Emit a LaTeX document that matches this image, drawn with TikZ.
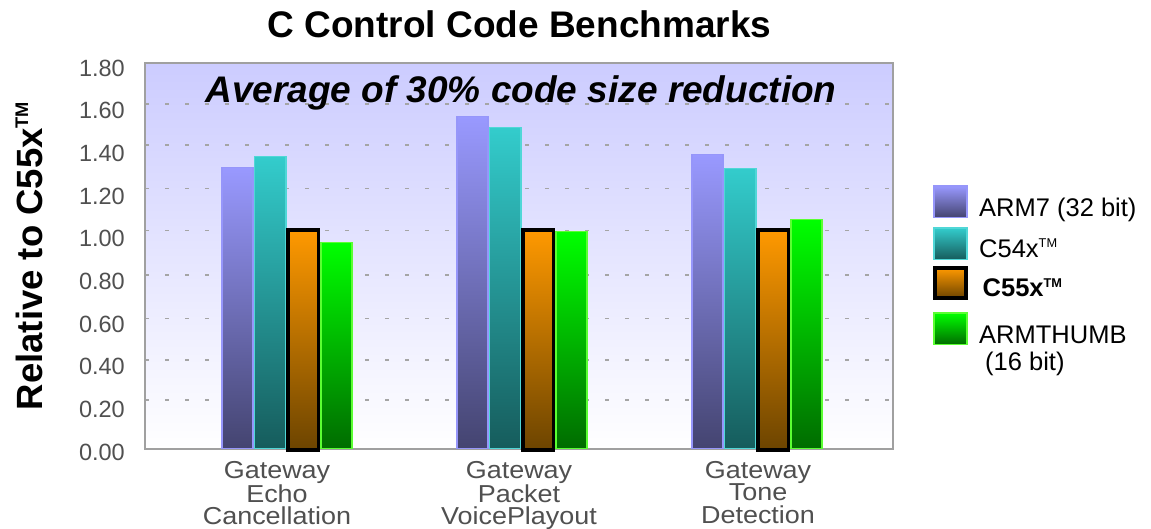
\documentclass[tikz,border=0pt]{standalone}
\usepackage{fontspec}
\setmainfont{Liberation Sans}
\definecolor{bgtop}{RGB}{204,204,255}
\definecolor{gridc}{RGB}{165,165,165}
\definecolor{axisc}{RGB}{160,160,160}
\definecolor{labc}{RGB}{80,80,80}
\definecolor{armtop}{RGB}{153,153,255}
\definecolor{armbot}{RGB}{68,68,112}
\definecolor{armln}{RGB}{150,150,250}
\definecolor{ctop}{RGB}{51,204,204}
\definecolor{cbot}{RGB}{22,92,92}
\definecolor{cln}{RGB}{80,215,215}
\definecolor{otop}{RGB}{255,153,0}
\definecolor{obot}{RGB}{108,68,0}
\definecolor{gtop}{RGB}{0,255,0}
\definecolor{gbot}{RGB}{0,108,0}
\definecolor{gln}{RGB}{90,255,50}
\newcommand\tmk{\raisebox{0.38em}{\scalebox{0.5}{TM}}}
\tikzset{
  armbar/.style={top color=armtop, bottom color=armbot, draw=armln, line width=1.5pt},
  c54bar/.style={top color=ctop, bottom color=cbot, draw=cln, line width=1.5pt},
  c55bar/.style={top color=otop, bottom color=obot, draw=black, line width=3.5pt},
  thumbbar/.style={top color=gtop, bottom color=gbot, draw=gln, line width=1.5pt},
  gridln/.style={draw=gridc, line width=1.3pt, dash pattern=on 4pt off 16pt},
  ylab/.style={anchor=east, inner sep=0pt, text=labc, font=\fontsize{23.5}{25}\selectfont},
  xlab/.style={anchor=north, inner sep=0pt, align=center, text=labc, xscale=1.1, font=\fontsize{24.5}{22.5}\selectfont},
  legtext/.style={anchor=base west, inner sep=0pt, font=\fontsize{25.5}{27}\selectfont},
}
\begin{document}
\begin{tikzpicture}[x=1pt,y=-1pt]
\useasboundingbox (0,0) rectangle (1151,529);
\fill[white] (0,0) rectangle (1151,529);
% plot background
\shade[top color=bgtop, bottom color=white] (145,63) rectangle (893,449);
\foreach \yy in {104,145,188.3,230.7,275,318.7,360,400}
  \draw[gridln] (145,\yy) -- (893,\yy);
\draw[axisc, line width=1.5pt] (145,63) rectangle (893,449);
% bars
\foreach \g/\a/\b/\c/\d in {221/167/156/230/242, 456/116/127/230/231, 691/154/168/230/219}{
  \draw[armbar] (\g+0.75,\a+0.75) rectangle (\g+32,448.5);
  \draw[c54bar] (\g+33.5,\b+0.75) rectangle (\g+65,448.5);
  \draw[c55bar] (\g+67,\c) rectangle (\g+97.5,450);
  \draw[thumbbar] (\g+99.75,\d+0.75) rectangle (\g+131,448.5);
}
% titles
\node[inner sep=0pt, anchor=base, font=\bfseries\fontsize{37}{40}\selectfont] (title) at (519.5,38) {C Control Code Benchmarks};
\node[inner sep=0pt, anchor=base, font=\bfseries\itshape\fontsize{37}{40}\selectfont] (sub) at (521,103) {Average of 30\% code size reduction};
\node[inner sep=0pt, rotate=90, font=\bfseries\fontsize{36.5}{40}\selectfont] (ytitle) at (29,256) {Relative to C55x\tmk};
% y labels
\foreach \v [count=\k from 0] in {1.80,1.60,1.40,1.20,1.00,0.80,0.60,0.40,0.20,0.00}
  \node[ylab] (yl\k) at (125,68+42.67*\k) {\v};
% x labels
\node[xlab] (x1) at (277,461) {Gateway\\Echo\\Cancellation};
\node[xlab] (x2) at (519,461) {Gateway\\Packet\\VoicePlayout};
\node[xlab] (x3) at (758,461) {Gateway\\Tone\\Detection};
% legend
\draw[armbar] (934,186) rectangle (967,217.5);
\draw[c54bar] (934,228) rectangle (967,259.5);
\draw[c55bar] (935,268) rectangle (966,298);
\draw[thumbbar] (934,313) rectangle (967,344.5);
\node[legtext] (l1) at (979,216.7) {ARM7 (32 bit)};
\node[legtext] (l2) at (979,257.3) {C54x\tmk};
\node[legtext, font=\bfseries\fontsize{25.5}{27}\selectfont] (l3) at (982.5,296.7) {C55x\tmk};
\node[legtext] (l4) at (979,343.3) {ARMTHUMB};
\node[legtext] (l5) at (985,370) {(16 bit)};
\end{tikzpicture}
\end{document}
